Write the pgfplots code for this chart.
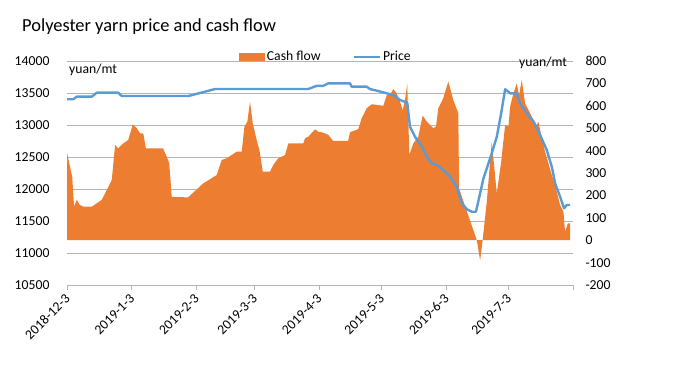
\documentclass[border=0pt]{standalone}
\usepackage{pgfplots}
\pgfplotsset{compat=1.18}
\usepackage{fontspec}
\setmainfont{Carlito}
\definecolor{cfc}{HTML}{ED7D31}
\definecolor{prc}{HTML}{5B9BD5}
\definecolor{gridc}{HTML}{B4B4B4}
\newcommand{\tickfont}{\fontsize{13.7}{16}\selectfont}
\pgfplotsset{
  base/.style={at={(67pt,83pt)}, anchor=south west, scale only axis,
    width=506pt, height=224pt, xmin=0, xmax=243,
    scaled y ticks=false,
    /pgf/number format/assume math mode=true,
    /pgf/number format/1000 sep={}},
}
\begin{document}
\begin{tikzpicture}
\path[use as bounding box] (0pt,0pt) rectangle (678pt,368pt);
\node[anchor=base west, inner sep=0pt, font=\fontsize{18.4}{22}\selectfont] at (22pt,337pt) {Polyester yarn price and cash flow};

% left axis: grid, ticks, labels
\begin{axis}[base,
  ymin=10500, ymax=14000,
  ytick={10500,11000,...,14000},
  xtick={0,31,62,90,121,151,182,212,243},
  xticklabels={2018-12-3,2019-1-3,2019-2-3,2019-3-3,2019-4-3,2019-5-3,2019-6-3,2019-7-3,{}},
  ymajorgrids=true,
  every major grid/.style={gridc, line width=0.9pt},
  axis x line*=bottom, axis y line*=left,
  every outer x axis line/.style={gridc, line width=0.9pt},
  y axis line style={draw=none},
  tick align=outside, major tick length=0pt,
  xtick style={gridc, line width=0.9pt, /pgfplots/major tick length=5pt},
  yticklabel style={font=\tickfont, anchor=east, xshift=-14pt},
  xticklabel style={font=\tickfont, yshift=-9pt, xshift=3pt, rotate=45, anchor=east},
]
\addplot[draw=none, forget plot] coordinates {(0,10500) (243,14000)};
\end{axis}

% right axis: cash flow area
\begin{axis}[base,
  ymin=-200, ymax=800,
  ytick={-200,-100,...,800},
  xtick=\empty,
  axis y line*=right, axis x line=none,
  y axis line style={draw=none},
  ytick style={draw=none}, major tick length=0pt,
  yticklabel style={font=\tickfont, anchor=west, xshift=9pt},
]
\addplot[fill=cfc, draw=none] coordinates {
(0,390) (2.5,283) (3.4,150) (4.7,180) (6.2,157) (7.7,150) (12,150) (14.3,165)
(16.7,180) (19.1,224) (21.5,269) (23.1,425) (24.6,410) (27,432) (29.4,447)
(31.6,517) (33.5,500) (35.1,477) (36.6,477) (37.9,410) (46.1,410) (47.9,373)
(49.1,343) (50.3,194) (58.1,191) (65.5,254) (71.9,291) (74.3,358) (76.7,366)
(78.3,376) (81.5,395) (83.9,395) (85.2,507) (86.6,529) (87.9,618) (89.2,522)
(91.1,447) (92.4,403) (94,306) (97.5,306) (99.1,336) (101.5,366) (104.7,380)
(106.3,432) (113.5,432) (114.3,455) (115.9,462) (119.1,495) (120.7,484)
(123.1,480) (125.5,470) (127.8,443) (135,443) (135.9,482) (139.9,496)
(141.5,544) (143.9,589) (146.4,607) (151.9,600) (153.6,648) (155.1,648)
(156.7,675) (158.3,656) (159.9,618) (161.2,581) (162.3,626) (163.4,696)
(164.4,380) (166.3,432) (168.7,462) (170.8,556) (172.8,529) (175.9,500)
(177.2,507) (178.3,589) (180.7,634) (183.1,708) (185.5,626) (187.9,567)
(188.3,230) (196.8,0) (198.4,-90) (199.6,0) (201.6,172) (204,440) (206.4,209)
(208.5,350) (210.4,514) (212,507) (212.8,596) (214.4,656) (216,700) (217.1,648)
(218.4,715) (220,611) (223.2,551) (225.6,514) (226.4,529) (228,455) (229.6,395)
(232.8,291) (234.4,246) (236.8,157) (238.4,127) (239.2,38) (240.5,75) (241.6,75)
} \closedcycle;
\end{axis}

% price line (left scale) and legend
\begin{axis}[base,
  ymin=10500, ymax=14000, hide axis,
  legend style={at={(0.512,1.018)}, anchor=center, draw=none, fill=none,
    font=\tickfont, legend columns=2,
    /tikz/every even column/.append style={column sep=30pt},
    nodes={inner sep=2pt}},
]
\addlegendimage{legend image code/.code={\fill[cfc] (0pt,-3.5pt) rectangle (25pt,3.5pt);}}
\addlegendentry{Cash flow}
\addplot[prc, line width=2.4pt, line join=round,
  legend image code/.code={\draw[prc, line width=2.4pt] (0pt,0pt) -- (26pt,0pt);}]
  coordinates {
(0,13402) (3,13402) (4.7,13443) (11.9,13443) (14.3,13505) (24.6,13505)
(26.3,13453) (58.3,13453) (71.1,13562) (115.9,13562) (119.9,13612) (123.1,13612)
(125.5,13651) (135.9,13651) (136.7,13599) (143.9,13599) (145.5,13562)
(148.8,13536) (153.6,13495) (156.7,13469) (159.9,13391) (163.4,13349)
(164.7,12974) (167.1,12817) (170.4,12661) (172.8,12505) (175.2,12401)
(177.6,12375) (180.7,12297) (184,12192) (187.2,12036) (189.6,11777)
(192,11683) (194.4,11645) (196.4,11645) (198.4,11933) (200,12167)
(202.4,12401) (204,12558) (206.4,12817) (208.5,13183) (210.4,13558)
(212,13520) (212.8,13495) (216,13495) (217.6,13330) (220.8,13183)
(224,13052) (227.2,12844) (230.4,12609) (232.8,12349) (234.4,12089)
(236.8,11880) (238.7,11698) (240,11750) (241.6,11750)
};
\addlegendentry{Price}
\end{axis}

\node[anchor=west, inner sep=0pt, font=\tickfont] at (69pt,298pt) {yuan/mt};
\node[anchor=west, inner sep=0pt, font=\tickfont] at (519pt,305pt) {yuan/mt};
\end{tikzpicture}
\end{document}
